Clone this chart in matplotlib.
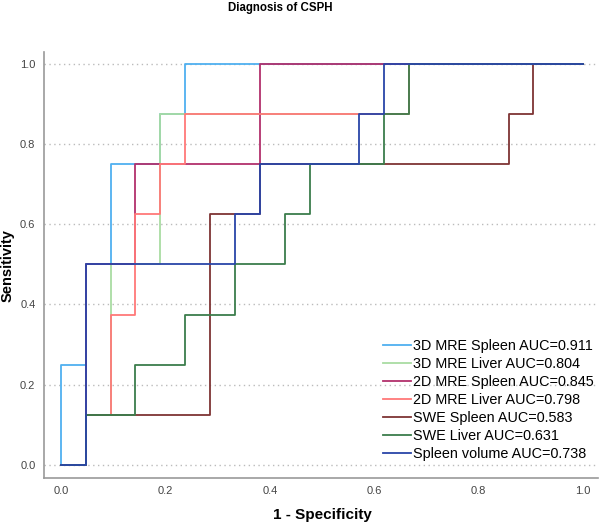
import numpy as np
import matplotlib
matplotlib.use("Agg")
import matplotlib.pyplot as plt

plt.rcParams['font.family'] = ['Liberation Sans', 'DejaVu Sans']

# 8 positive cases, 21 negative cases
n_pos = 8
n_neg = 21

labels = ["3D MRE Spleen AUC=0.911", "3D MRE Liver AUC=0.804",
          "2D MRE Spleen AUC=0.845", "2D MRE Liver AUC=0.798",
          "SWE Spleen AUC=0.583", "SWE Liver AUC=0.631",
          "Spleen volume AUC=0.738"]
colors = ["#4fb0f0", "#a9dca2", "#b2306c", "#ff7878",
          "#7e3434", "#3c7d4c", "#2a45a8"]

# true positives (out of 8) on each of the 21 false-positive steps
mre3d_spleen = [2, 4, 6, 6, 7, 8, 8, 8, 8, 8, 8, 8, 8, 8, 8, 8, 8, 8, 8, 8, 8]
mre3d_liver = [0, 1, 4, 4, 7, 7, 7, 7, 7, 7, 7, 7, 7, 7, 8, 8, 8, 8, 8, 8, 8]
mre2d_spleen = [0, 4, 4, 6, 6, 6, 6, 6, 8, 8, 8, 8, 8, 8, 8, 8, 8, 8, 8, 8, 8]
mre2d_liver = [0, 1, 3, 5, 6, 7, 7, 7, 7, 7, 7, 7, 7, 7, 8, 8, 8, 8, 8, 8, 8]
swe_spleen = [0, 1, 1, 1, 1, 1, 5, 5, 6, 6, 6, 6, 6, 6, 6, 6, 6, 6, 7, 8, 8]
swe_liver = [0, 1, 1, 2, 2, 3, 3, 4, 4, 5, 6, 6, 6, 7, 8, 8, 8, 8, 8, 8, 8]
spleen_volume = [0, 4, 4, 4, 4, 4, 4, 5, 6, 6, 6, 6, 7, 8, 8, 8, 8, 8, 8, 8, 8]

curves = [mre3d_spleen, mre3d_liver, mre2d_spleen, mre2d_liver,
          swe_spleen, swe_liver, spleen_volume]

fig = plt.figure(figsize=(6, 5.24), dpi=100)
ax = fig.add_axes([0.073, 0.088, 0.924, 0.813])

for tp, lab, col in zip(curves, labels, colors):
    x = np.concatenate([[0], np.arange(n_neg + 1)]) / n_neg
    y = np.concatenate([[0], tp, [n_pos]]) / n_pos
    ax.plot(x, y, drawstyle='steps-post', color=col, lw=1.3, label=lab)

ax.set_xlim(-0.0326, 1.0287)
ax.set_ylim(-0.0324, 1.03)
ax.set_xticks(np.arange(0, 1.01, 0.2))
ax.set_yticks(np.arange(0, 1.01, 0.2))
ax.set_xticklabels(["0.0", "0.2", "0.4", "0.6", "0.8", "1.0"])
ax.set_yticklabels(["0.0", "0.2", "0.4", "0.6", "0.8", "1.0"])
ax.tick_params(length=0, labelsize=8, labelcolor="#444444", pad=6)
ax.grid(axis='y', linestyle=(0, (1, 2.5)), color="#bbbbbb", lw=1)
ax.set_axisbelow(True)
for s in ['top', 'right']:
    ax.spines[s].set_visible(False)
for s in ['left', 'bottom']:
    ax.spines[s].set_color("#999999")
    ax.spines[s].set_linewidth(1.2)

ax.legend(loc='upper left', bbox_to_anchor=(383 / 600, 1 - 339 / 524),
          bbox_transform=fig.transFigure, frameon=False, fontsize=10.4,
          handlelength=1.95, handletextpad=0.15, labelspacing=0.28,
          borderpad=0, borderaxespad=0)

fig.text(280 / 600, 1 - 8 / 524, "Diagnosis of CSPH", ha='center', va='center',
         fontsize=8.3, fontweight='bold')
fig.text(8 / 600, 1 - 266 / 524, "Sensitivity", ha='center', va='center',
         rotation=90, fontsize=10.5, fontweight='bold')
fig.text(322 / 600, 1 - 515 / 524, "1 - Specificity", ha='center', va='center',
         fontsize=11, fontweight='bold')

fig.savefig("out.png", dpi=100)
